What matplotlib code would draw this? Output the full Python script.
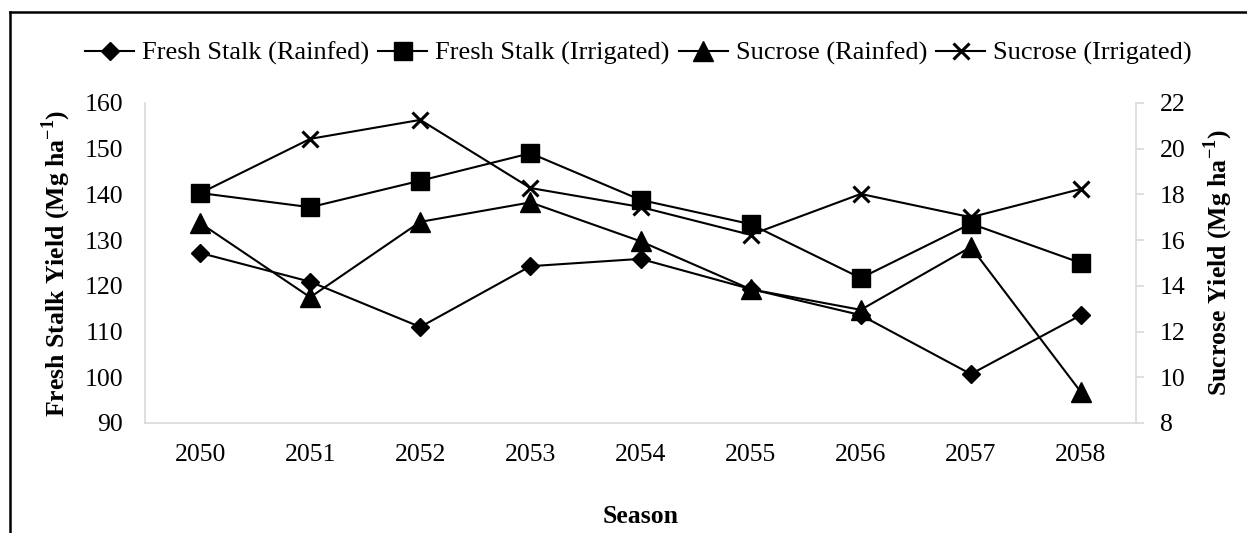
import matplotlib.pyplot as plt
from matplotlib.lines import Line2D

SERIF = ['Liberation Serif', 'DejaVu Serif']
plt.rcParams['font.family'] = SERIF
plt.rcParams['mathtext.fontset'] = 'custom'
plt.rcParams['mathtext.rm'] = 'Liberation Serif'
plt.rcParams['mathtext.bf'] = 'Liberation Serif:bold'

# Data
seasons = ['2050', '2051', '2052', '2053', '2054', '2055', '2056', '2057', '2058']
fresh_rainfed = [127.2, 120.9, 111.0, 124.3, 125.9, 119.3, 113.6, 100.7, 113.6]
fresh_irrigated = [140.3, 137.2, 143.0, 149.0, 138.8, 133.5, 121.7, 133.6, 125.0]
sucrose_rainfed = [16.75, 13.5, 16.8, 17.65, 15.95, 13.85, 12.95, 15.7, 9.35]
sucrose_irrigated = [18.05, 20.43, 21.26, 18.28, 17.45, 16.23, 18.02, 17.0, 18.24]

GRAY = '#d9d9d9'
FS = 18.5

fig = plt.figure(figsize=(12.47, 5.33), dpi=100)
ax = fig.add_axes([0.1163, 0.2064, 0.7947, 0.6004])
ax2 = ax.twinx()

x = range(len(seasons))
h1, = ax.plot(x, fresh_rainfed, color='black', lw=1.5, marker='D', ms=9,
              label='Fresh Stalk (Rainfed)')
h2, = ax.plot(x, fresh_irrigated, color='black', lw=1.5, marker='s', ms=13,
              label='Fresh Stalk (Irrigated)')
h3, = ax2.plot(x, sucrose_rainfed, color='black', lw=1.5, marker='^', ms=14,
               label='Sucrose (Rainfed)')
h4, = ax2.plot(x, sucrose_irrigated, color='black', lw=1.5, marker='x', ms=12,
               mew=2.2, label='Sucrose (Irrigated)')

ax.set_xlim(-0.5, len(seasons) - 0.5)
ax.set_xticks(list(x))
ax.set_xticklabels(seasons)
ax.set_ylim(90, 160)
ax.set_yticks(range(90, 161, 10))
ax2.set_ylim(8, 22)
ax2.set_yticks(range(8, 23, 2))

for a in (ax, ax2):
    for s in a.spines.values():
        s.set_color(GRAY)
        s.set_linewidth(1.2)
    a.spines['top'].set_visible(False)
ax.spines['right'].set_visible(False)
ax2.spines['left'].set_visible(False)
ax2.spines['bottom'].set_visible(False)

ax.tick_params(axis='x', length=0, labelsize=FS, pad=15)
ax.tick_params(axis='y', length=0, labelsize=FS, pad=16)
ax2.tick_params(axis='y', length=6, width=1.2, color=GRAY, labelsize=FS, pad=11)

ax.set_ylabel(r'Fresh Stalk Yield (Mg ha$^{\mathbf{-1}}$)', fontsize=FS,
              fontweight='bold', labelpad=8)
ax2.set_ylabel(r'Sucrose Yield (Mg ha$^{\mathbf{-1}}$)', fontsize=FS,
               fontweight='bold', labelpad=12)
ax.set_xlabel('Season', fontsize=FS, fontweight='bold', labelpad=28)

fig.legend(handles=[h1, h2, h3, h4], loc='center', bbox_to_anchor=(0.512, 0.90),
           ncol=4, frameon=False, prop={'family': SERIF, 'size': 19},
           handlelength=1.85, handletextpad=0.3, columnspacing=0.35)

# Outer frame (top and left edges visible in the reference)
fig.add_artist(Line2D([10 / 1247, 1.0], [1 - 12 / 533, 1 - 12 / 533],
                      color='black', lw=1.8))
fig.add_artist(Line2D([10 / 1247, 10 / 1247], [0.0, 1 - 12 / 533],
                      color='black', lw=1.8))

fig.savefig('out.png', dpi=100)
